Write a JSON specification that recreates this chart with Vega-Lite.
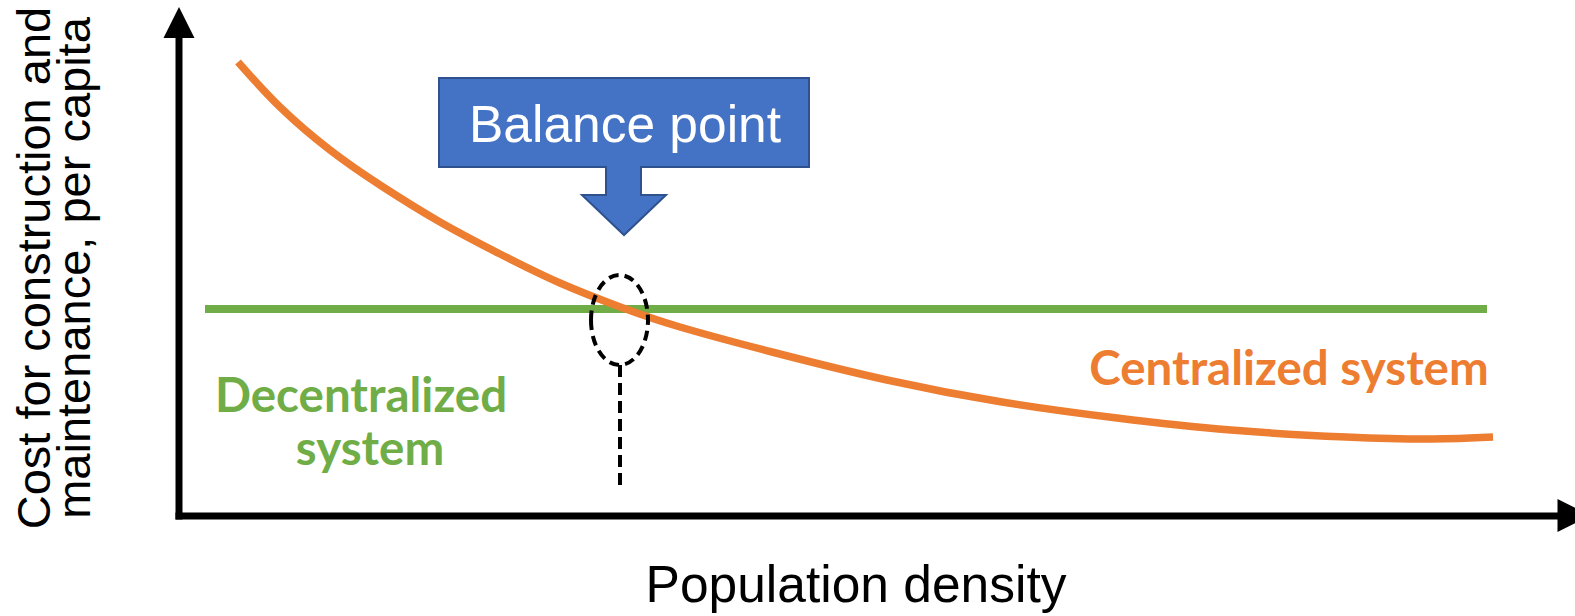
{
  "$schema": "https://vega.github.io/schema/vega-lite/v6.json",
  "width": 1575,
  "height": 616,
  "autosize": "none",
  "padding": 0,
  "background": "white",
  "config": {"view": {"stroke": null}},
  "encoding": {
    "x": {"field": "x", "type": "quantitative", "scale": {"domain": [-179, 1396], "nice": false, "zero": false}, "axis": null},
    "y": {"field": "y", "type": "quantitative", "scale": {"domain": [-100, 516], "nice": false, "zero": false}, "axis": null}
  },
  "layer": [
    {
      "data": {"values": [{"x": 26, "y": 207}, {"x": 1308, "y": 207}]},
      "mark": {"type": "line", "color": "#70AD47", "strokeWidth": 8, "strokeCap": "butt"},
      "encoding": {}
    },
    {
      "data": {"values": [
        {"x": 59, "y": 454}, {"x": 101, "y": 409}, {"x": 151, "y": 366}, {"x": 201, "y": 331},
        {"x": 261, "y": 294}, {"x": 321, "y": 262}, {"x": 381, "y": 233}, {"x": 444, "y": 208},
        {"x": 501, "y": 189}, {"x": 593, "y": 164}, {"x": 708, "y": 136}, {"x": 823, "y": 114},
        {"x": 938, "y": 98}, {"x": 1052, "y": 86}, {"x": 1167, "y": 79}, {"x": 1253, "y": 77},
        {"x": 1314, "y": 79}
      ]},
      "mark": {"type": "line", "color": "#ED7D31", "strokeWidth": 7.5, "interpolate": "natural", "strokeCap": "butt"},
      "encoding": {}
    },
    {
      "data": {"values": [{"x": 0, "y": -3.5, "y2": 478}]},
      "mark": {"type": "rule", "color": "black", "strokeWidth": 7},
      "encoding": {"y2": {"field": "y2"}}
    },
    {
      "data": {"values": [{"x": -3.5, "y": 0, "x2": 1379}]},
      "mark": {"type": "rule", "color": "black", "strokeWidth": 7},
      "encoding": {"x2": {"field": "x2"}}
    },
    {
      "data": {"values": [{"x": 0, "y": 493.5}]},
      "mark": {"type": "point", "shape": "M0,-1L1,1L-1,1Z", "size": 961, "filled": true, "fill": "black", "strokeWidth": 0, "opacity": 1}
    },
    {
      "data": {"values": [{"x": 1395, "y": 0.5}]},
      "mark": {"type": "point", "shape": "M1,0L-1,-1L-1,1Z", "size": 1089, "filled": true, "fill": "black", "strokeWidth": 0, "opacity": 1}
    },
    {
      "data": {"values": [{"x": 440.5, "y": 196}]},
      "mark": {"type": "point", "shape": "M-28.5,0A28.5,45 0 1,0 28.5,0A28.5,45 0 1,0 -28.5,0Z", "size": 4, "filled": false, "fill": null, "stroke": "black", "strokeWidth": 4, "strokeDash": [10, 6], "opacity": 1}
    },
    {
      "data": {"values": [{"x": 441, "y": 151, "y2": 31}]},
      "mark": {"type": "rule", "color": "black", "strokeWidth": 4, "strokeDash": [12, 6]},
      "encoding": {"y2": {"field": "y2"}}
    },
    {
      "data": {"values": [{"x": 445, "y": 281}]},
      "mark": {"type": "point", "shape": "M-185,-157L185,-157L185,-68L17,-68L17,-40L42,-40L0,0L-42,-40L-18,-40L-18,-68L-185,-68Z", "size": 4, "filled": true, "fill": "#4472C4", "stroke": "#2F528F", "strokeWidth": 2, "opacity": 1}
    },
    {
      "data": {"values": [{"x": 446, "y": 374, "t": "Balance point"}]},
      "mark": {"type": "text", "font": "Liberation Sans", "fontSize": 51.5, "color": "white", "align": "center", "baseline": "alphabetic"},
      "encoding": {"text": {"field": "t"}}
    },
    {
      "data": {"values": [{"x": 677, "y": -86, "t": "Population density"}]},
      "mark": {"type": "text", "font": "Liberation Sans", "fontSize": 51.5, "color": "black", "align": "center", "baseline": "alphabetic"},
      "encoding": {"text": {"field": "t"}}
    },
    {
      "data": {"values": [
        {"x": -129, "y": 248, "t": "Cost for construction and"},
        {"x": -89, "y": 248, "t": "maintenance, per capita"}
      ]},
      "mark": {"type": "text", "font": "Liberation Sans", "fontSize": 47, "color": "black", "align": "center", "baseline": "alphabetic", "angle": 270},
      "encoding": {"text": {"field": "t"}}
    },
    {
      "data": {"values": [
        {"x": 182, "y": 104, "t": "Decentralized"},
        {"x": 191, "y": 51, "t": "system"}
      ]},
      "mark": {"type": "text", "font": "Lato", "fontWeight": "bold", "fontSize": 47.5, "color": "#70AD47", "align": "center", "baseline": "alphabetic"},
      "encoding": {"text": {"field": "t"}}
    },
    {
      "data": {"values": [{"x": 1110, "y": 131, "t": "Centralized system"}]},
      "mark": {"type": "text", "font": "Lato", "fontWeight": "bold", "fontSize": 47.5, "color": "#ED7D31", "align": "center", "baseline": "alphabetic"},
      "encoding": {"text": {"field": "t"}}
    }
  ]
}
